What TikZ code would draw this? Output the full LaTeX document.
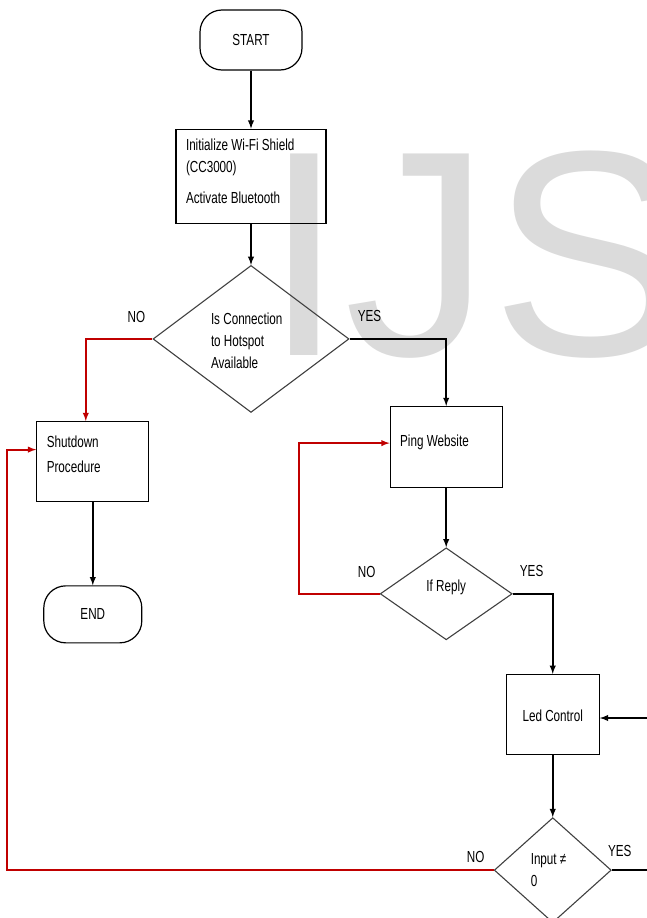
\documentclass[tikz,border=0pt]{standalone}
\usepackage{fontspec}
\setmainfont{Liberation Sans}[FakeStretch=0.73]
\newfontfamily\wmfont{Liberation Sans}
\usepackage{xcolor}
\usetikzlibrary{positioning}
\usetikzlibrary{arrows}
\usetikzlibrary{shapes.geometric}
\definecolor{noRed}{RGB}{192,0,0}
\definecolor{wmGray}{RGB}{219,219,219}

\begin{document}
\begin{tikzpicture}[x=1pt, y=1pt, font=\fontsize{16}{22}\selectfont]
	\tikzstyle{term} = [draw, line width=1.2pt, rounded corners=22pt, minimum width=102pt, minimum height=60pt]
	\tikzstyle{proc} = [draw, line width=1.3pt, inner xsep=10pt, align=flush left]
	\tikzstyle{dec} = [draw=black!75, line width=1.1pt, diamond, inner sep=0pt, align=flush left]
	\tikzstyle{line} = [draw, -latex, line width=1.8pt]
	\tikzstyle{noline} = [line, draw=noRed]
	\tikzstyle{lbl} = [inner sep=0pt]

	\useasboundingbox (0,0) rectangle (647,-918);
	\node [anchor=base west, inner sep=0pt, text=wmGray, font=\wmfont\fontsize{293}{293}\selectfont] (wm) at (263,-355) {IJS};

	\node [term] (start) at (251,-40) {START};
	\node [proc, text width=130pt, minimum height=94pt, text depth=63pt, below=58pt of start] (init) {Initialize Wi-Fi Shield\\(CC3000)\\[9pt]Activate Bluetooth};
	\node [dec, text width=80pt, text depth=40pt, minimum width=196pt, minimum height=147pt, below=41pt of init] (conn) {Is Connection\\to Hotspot\\Available};
	\node [proc, text width=92pt, minimum height=81pt, text depth=13pt, below right=67pt and 40pt of conn.east] (ping) {Ping Website};
	\node [proc, text width=92pt, minimum height=80pt, text depth=39pt, below left=82pt and 3pt of conn.west] (shut) {Shutdown\\[3pt]Procedure};
	\node [term, minimum width=98pt, minimum height=57pt, below=83pt of shut] (stop) {END};
	\node [dec, align=center, text depth=17pt, minimum width=132pt, minimum height=92pt, below=59pt of ping] (reply) {If Reply};
	\node [proc, align=center, minimum width=93pt, minimum height=80pt, text height=15pt, below=80pt of reply.east, xshift=40pt] (led) {Led Control};
	\node [dec, text width=44pt, minimum width=117pt, minimum height=105pt, below=62pt of led] (input) {Input ≠\\0};

	\coordinate (ledfeed) at (647,-718);
	\coordinate (yesout) at (647,-870);

	\node [lbl, above left=16pt and 7pt of conn.west] (noconn) {NO};
	\node [lbl, above right=17pt and 8pt of conn.east] (yesconn) {YES};
	\node [lbl, above left=16pt and 4pt of reply.west] (noreply) {NO};
	\node [lbl, above right=17pt and 7pt of reply.east] (yesreply) {YES};
	\node [lbl, above left=7pt and 9pt of input.west] (noinput) {NO};
	\node [lbl, above right=13pt and -4pt of input.east] (yesinput) {YES};

	\path [line] (start) -- (init);
	\path [line] (init) -- (conn);
	\path [noline] (conn.west) -| ([xshift=-7pt]shut.north);
	\path [line] (conn.east) -| (ping.north);
	\path [line] (shut) -- (stop);
	\path [line] (ping) -- (reply);
	\path [noline] (reply.west) -- ++(-81,0) |- ([yshift=4pt]ping.west);
	\path [line] (reply.east) -| (led.north);
	\path [line] (ledfeed) -- (ledfeed -| led.east);
	\path [line] (led) -- (input);
	\path [noline] (input.west) -- ++(-487,0) |- ([yshift=12pt]shut.west);
	\path [draw, line width=1.8pt] (input.east) -- (input.east -| yesout);
\end{tikzpicture}
\end{document}
